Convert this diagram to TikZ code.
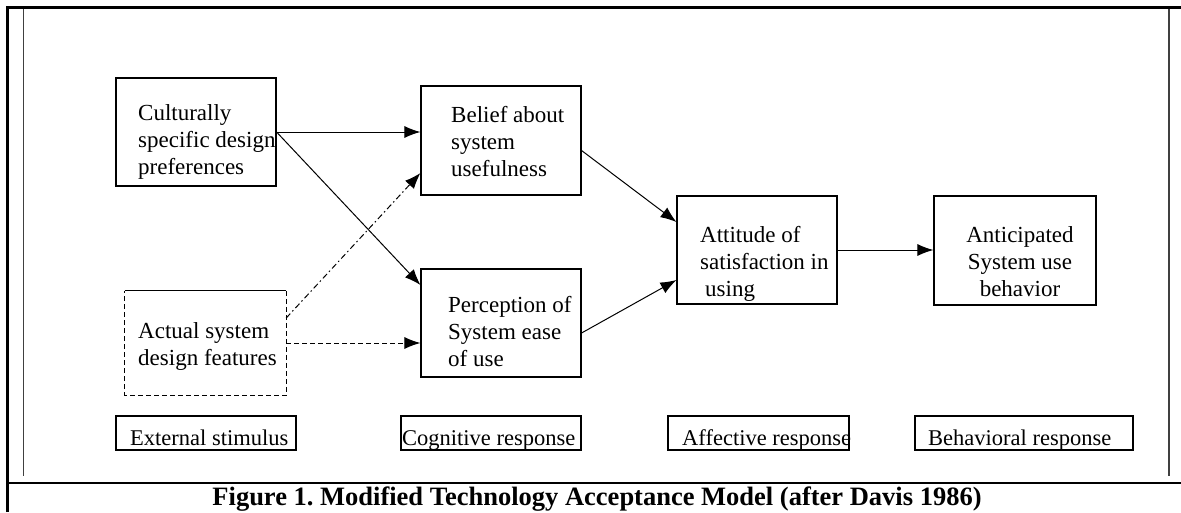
\documentclass[tikz,border=0pt]{standalone}
\usepackage{fontspec}
\setmainfont{Liberation Serif}
\usetikzlibrary{arrows.meta,calc}
\frenchspacing
\begin{document}
\begin{tikzpicture}[x=1pt,y=-1pt,
  box/.style={draw, line width=1.1pt, inner sep=0pt},
  txt/.style={inner sep=0pt, font=\fontsize{23}{27}\selectfont, align=left},
  lbl/.style={inner sep=0pt, font=\fontsize{22.5}{27}\selectfont},
  arr/.style={line width=1pt, -{Latex[length=16pt,width=12pt]}},
  dsh/.style={dash pattern=on 5pt off 3pt},
]
\useasboundingbox (0,0) rectangle (1181,512);
% frame
\draw[line width=3pt] (7.5,512) -- (7.5,7.5) -- (1181,7.5);
\draw[line width=2.7pt] (7.5,483) -- (1181,483);
\draw[line width=1.5pt, black!75] (23.5,9) -- (23.5,476);
\draw[line width=1.5pt, black!75] (1169,9) -- (1169,476);
% boxes
\node[box, minimum width=160, minimum height=108] (cult) at (196,132) {};
\node[box, minimum width=160, minimum height=109] (belief) at (501,140.5) {};
\node[box, minimum width=160, minimum height=108] (perc) at (501,323) {};
\node[box, minimum width=160, minimum height=108] (att) at (757,250) {};
\node[box, minimum width=162, minimum height=109] (ant) at (1015,250.5) {};
\node[inner sep=0pt, minimum width=161, minimum height=104] (act) at (205.5,343) {};
\draw[line width=1.1pt] (act.north west) -- (act.north east);
\draw[line width=1.1pt, dsh] (act.north east) -- (act.south east) -- (act.south west) -- (act.north west);
\node[box, minimum width=180, minimum height=34] (ext) at (206,433) {};
\node[box, minimum width=180, minimum height=34] (cog) at (491,433) {};
\node[box, minimum width=181, minimum height=34] (aff) at (758.5,433) {};
\node[box, minimum width=218, minimum height=34] (beh) at (1024,433) {};
% texts
\node[txt, anchor=north west] (cultT) at (138,101.1) {\strut Culturally\\specific design\\preferences};
\node[txt, anchor=north west] (beliefT) at (451,103.1) {\strut Belief about\\system\\usefulness};
\node[txt, anchor=north west] (percT) at (448,293.1) {\strut Perception of\\System ease\\of use};
\node[txt, anchor=north west] (attT) at (700,223.1) {\strut Attitude of\\satisfaction in\\\hspace{5pt}using};
\node[txt, anchor=north, align=center] (antT) at (1020,223.1) {\strut Anticipated\\System use\\behavior};
\node[txt, anchor=north west] (actT) at (138,319.1) {\strut Actual system\\design features};
\node[lbl, anchor=base west] (extT) at (130,445) {External stimulus};
\node[lbl, anchor=base west] (cogT) at (402,445) {Cognitive response};
\node[lbl, anchor=base west] (affT) at (682,445) {Affective response};
\node[lbl, anchor=base west] (behT) at (928,445) {Behavioral response};
% arrows
\draw[arr] (cult.east) -- (belief.west |- cult.east);
\draw[arr] (cult.east) -- ([yshift=38pt]perc.west);
\draw[arr, dash pattern=on 6pt off 3pt on 1.5pt off 3pt] ([yshift=25pt]act.east) -- ([yshift=-32.5pt]belief.west);
\draw[arr, dsh] (act.east) -- (perc.west |- act.east);
\draw[arr] ([yshift=-10pt]belief.east) -- ([yshift=28pt]att.west);
\draw[arr] ([yshift=-10pt]perc.east) -- ([yshift=-30pt]att.west);
\draw[arr] (att.east) -- (ant.west |- att.east);
% caption
\node[font=\fontsize{26.5}{30}\selectfont\bfseries, anchor=base, inner sep=0pt] (cap) at (597,505) {Figure 1. Modified Technology Acceptance Model (after Davis 1986)};
\end{tikzpicture}
\end{document}
